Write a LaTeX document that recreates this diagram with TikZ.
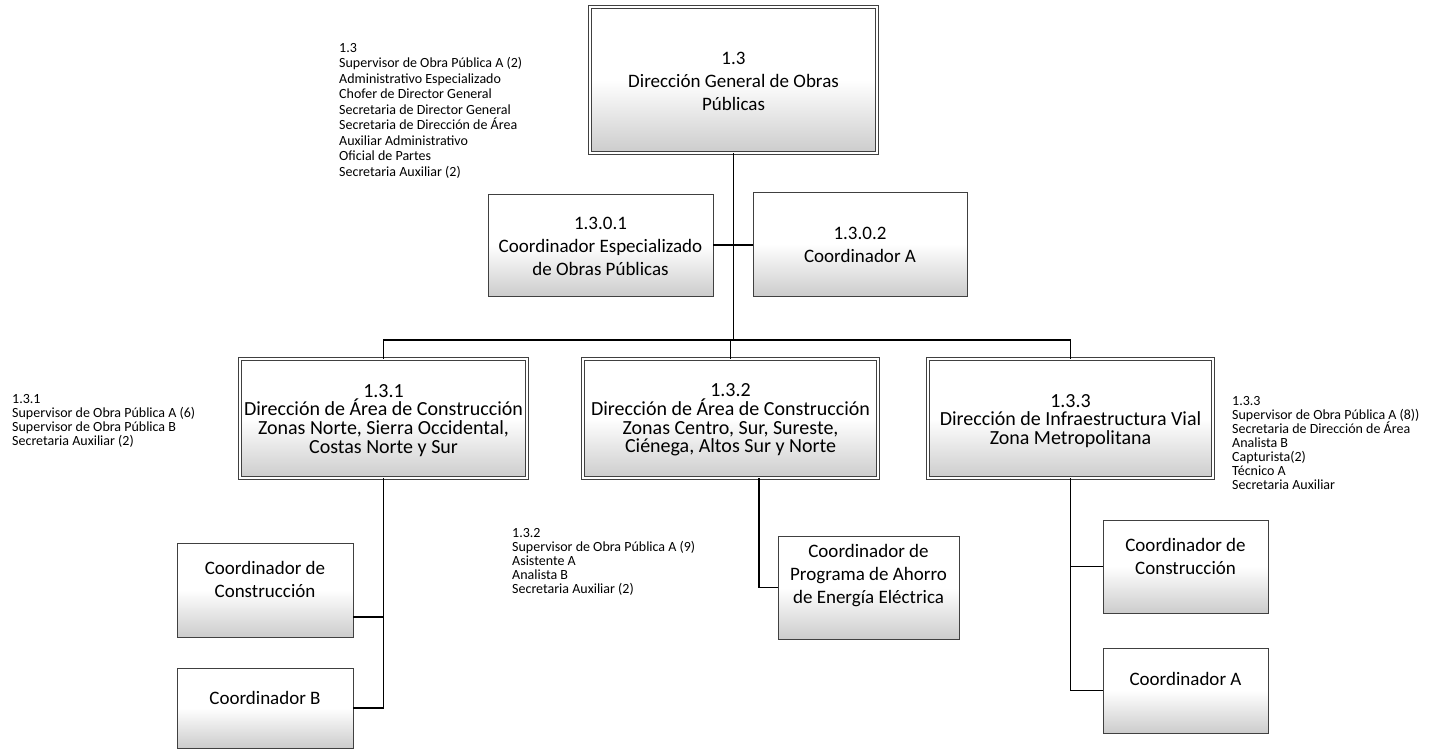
\documentclass[tikz,border=0pt]{standalone}
\usepackage{fontspec}
\setmainfont{Carlito}
\begin{document}
\begin{tikzpicture}[x=1pt,y=-1pt,
  box/.style={draw=black!75, line width=0.9pt, inner sep=0pt, top color=white, bottom color=black!20, middle color=white},
  dbox/.style={box, double=white, double distance=2.4pt},
  conn/.style={line width=1.8pt, black},
  btxt/.style={align=center, inner sep=0pt, font=\fontsize{19}{23}\selectfont},
  ctxt/.style={align=center, inner sep=0pt, font=\fontsize{20}{18.8}\selectfont},
  lst/.style={align=left, inner sep=0pt, anchor=north west, font=\fontsize{14}{14}\selectfont}
]
\useasboundingbox (0,0) rectangle (1447,751);
% boxes
\node[dbox, minimum width=287, minimum height=146] (top) at (733.5,80) {};
\node[box, minimum width=225, minimum height=102] (b1) at (600.5,245) {};
\node[box, minimum width=214, minimum height=104] (b2) at (860,244) {};
\node[dbox, minimum width=287, minimum height=119] (c1) at (383.5,418.5) {};
\node[dbox, minimum width=295, minimum height=119] (c2) at (730.5,418.5) {};
\node[dbox, minimum width=285, minimum height=119] (c3) at (1070.5,418.5) {};
\node[box, minimum width=176, minimum height=94] (d1) at (265,590) {};
\node[box, minimum width=176, minimum height=80] (d2) at (265,708) {};
\node[box, minimum width=181, minimum height=103] (e) at (868.5,587.5) {};
\node[box, minimum width=165, minimum height=93] (f1) at (1185.5,566.5) {};
\node[box, minimum width=165, minimum height=85] (f2) at (1185.5,690.5) {};
% box texts
\node[btxt] (topt) at (733.5,81) {1.3\\Dirección General de Obras\\Públicas};
\node[btxt] (b1t) at (600.5,246) {1.3.0.1\\Coordinador Especializado\\de Obras Públicas};
\node[btxt] (b2t) at (860,245) {1.3.0.2\\Coordinador A};
\node[ctxt] (c1t) at (383.5,420.5) {1.3.1\\Dirección de Área de Construcción\\Zonas Norte, Sierra Occidental,\\Costas Norte y Sur};
\node[ctxt] (c2t) at (730.5,420) {1.3.2\\Dirección de Área de Construcción\\Zonas Centro, Sur, Sureste,\\Ciénega, Altos Sur y Norte};
\node[ctxt] (c3t) at (1070.5,421) {1.3.3\\Dirección de Infraestructura Vial\\Zona Metropolitana};
\node[btxt] (d1t) at (265,579.5) {Coordinador de\\Construcción};
\node[btxt] (d2t) at (265,698) {Coordinador B};
\node[btxt] (et) at (868.5,576) {Coordinador de\\Programa de Ahorro\\de Energía Eléctrica};
\node[btxt] (f1t) at (1185.5,556) {Coordinador de\\Construcción};
\node[btxt] (f2t) at (1185.5,679) {Coordinador A};
% connectors
\coordinate (bar) at (733.5,340);
\draw[conn] (top.south) -- (bar);
\draw[conn] (c1.north) -- (c1.north |- bar) -- (c3.north |- bar) -- (c3.north);
\draw[conn] (c2.north) -- (c2.north |- bar);
\draw[conn] (b1.east) -- (b1.east -| b2.west);
\draw[conn] (c1.south) |- (d2.east);
\draw[conn] ([yshift=-27pt]d1.east) -- ([yshift=-27pt]d1.east -| c1.south);
\draw[conn] ([xshift=28.5pt]c2.south) |- (e.west);
\draw[conn] (c3.south) |- (f2.west);
\draw[conn] (f1.west) -- (f1.west -| c3.south);
% staff lists
\node[lst, font=\fontsize{14}{15.5}\selectfont] (l13) at (339,43) {1.3\\Supervisor de Obra Pública A (2)\\Administrativo Especializado\\Chofer de Director General\\Secretaria de Director General\\Secretaria de Dirección de Área\\Auxiliar Administrativo\\Oficial de Partes\\Secretaria Auxiliar (2)};
\node[lst] (l131) at (12,394) {1.3.1\\Supervisor de Obra Pública A (6)\\Supervisor de Obra Pública B\\Secretaria Auxiliar (2)};
\node[lst] (l132) at (512,528) {1.3.2\\Supervisor de Obra Pública A (9)\\Asistente A\\Analista B\\Secretaria Auxiliar (2)};
\node[lst] (l133) at (1232,396) {1.3.3\\Supervisor de Obra Pública A (8))\\Secretaria de Dirección de Área\\Analista B\\Capturista(2)\\Técnico A\\Secretaria Auxiliar};
\end{tikzpicture}
\end{document}
